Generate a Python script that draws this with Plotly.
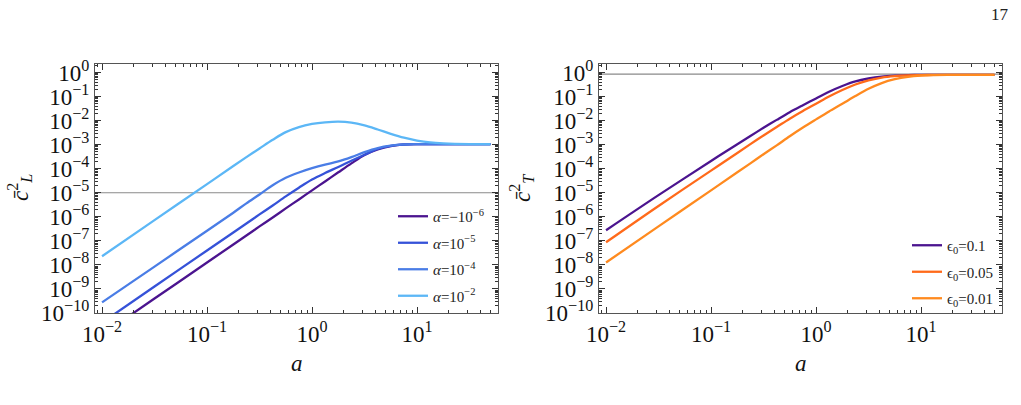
import plotly.graph_objects as go

# ---- data (curve values given as log10 of c^2) ----
a_vals = [0.01, 0.0316, 0.1, 0.178, 0.237, 0.316, 0.422, 0.562, 0.750, 1.0, 1.33, 1.78, 2.37,
          3.16, 4.22, 5.62, 7.5, 10.0, 13.3, 17.8, 31.6, 50.0]

# left panel: log10(c_L^2)
cL_alpha_m1e6 = [-10.9, -9.4, -7.9, -7.15, -6.78, -6.4, -6.03, -5.65, -5.28, -4.9, -4.53, -4.15, -3.78,
                 -3.43, -3.2, -3.06, -2.99, -2.98, -2.98, -2.98, -2.98, -2.98]
cL_alpha_1e5 = [-10.4, -8.9, -7.4, -6.65, -6.28, -5.9, -5.53, -5.15, -4.79, -4.45, -4.18, -3.93, -3.67,
                -3.42, -3.18, -3.05, -3.0, -2.98, -2.98, -2.98, -2.98, -2.98]
cL_alpha_1e4 = [-9.56, -8.07, -6.58, -5.83, -5.44, -5.07, -4.69, -4.38, -4.16, -3.98, -3.83, -3.70, -3.52,
                -3.31, -3.14, -3.04, -2.99, -2.98, -2.98, -2.98, -2.98, -2.98]
cL_alpha_1e2 = [-7.64, -6.14, -4.64, -3.89, -3.52, -3.16, -2.8, -2.48, -2.27, -2.14, -2.07, -2.04, -2.08,
                -2.2, -2.37, -2.55, -2.71, -2.83, -2.91, -2.95, -2.98, -2.98]
cL_ref = 1.0e-5

# right panel: log10(c_T^2)
cT_eps_01 = [-6.56, -5.1, -3.68, -2.98, -2.64, -2.3, -1.97, -1.65, -1.36, -1.08, -0.8, -0.56, -0.37,
             -0.25, -0.17, -0.13, -0.11, -0.1, -0.1, -0.1, -0.1, -0.1]
cT_eps_005 = [-7.06, -5.55, -4.08, -3.35, -2.98, -2.62, -2.27, -1.92, -1.6, -1.3, -1.0, -0.73, -0.5,
              -0.33, -0.21, -0.15, -0.12, -0.11, -0.1, -0.1, -0.1, -0.1]
cT_eps_001 = [-7.9, -6.4, -4.9, -4.15, -3.78, -3.4, -3.03, -2.65, -2.29, -1.95, -1.62, -1.3, -0.98,
              -0.68, -0.44, -0.28, -0.18, -0.13, -0.11, -0.1, -0.1, -0.1]
cT_ref = 0.85

left_names = ["<i>α</i>=−10<sup>−6</sup>", "<i>α</i>=10<sup>−5</sup>", "<i>α</i>=10<sup>−4</sup>", "<i>α</i>=10<sup>−2</sup>"]
right_names = ["ϵ<sub>0</sub>=0.1", "ϵ<sub>0</sub>=0.05", "ϵ<sub>0</sub>=0.01"]

y_exps = list(range(0, -11, -1))
y_tickvals = [10.0 ** e for e in y_exps]
y_ticktext = ["10<sup>" + (str(e) if e >= 0 else "−" + str(-e)) + "</sup>" for e in y_exps]
x_exps = [-2, -1, 0, 1]
x_tickvals = [10.0 ** e for e in x_exps]
x_ticktext = ["10<sup>" + (str(e) if e >= 0 else "−" + str(-e)) + "</sup>" for e in x_exps]

left_colors = ["#4b148f", "#3552d8", "#4a7de6", "#5cb7f6"]
right_colors = ["#4b148f", "#ff6a1a", "#ff8a1f"]

SERIF = "Liberation Serif"
W, H = 1021, 405


def unlog(vals):
    return [10.0 ** v for v in vals]


fig = go.Figure()

# reference lines
fig.add_trace(go.Scatter(x=[0.005, 100], y=[cL_ref, cL_ref], mode="lines",
                         line=dict(color="#8a8a8a", width=1.2), showlegend=False,
                         hoverinfo="skip", xaxis="x", yaxis="y"))
fig.add_trace(go.Scatter(x=[0.005, 100], y=[cT_ref, cT_ref], mode="lines",
                         line=dict(color="#8a8a8a", width=1.2), showlegend=False,
                         hoverinfo="skip", xaxis="x2", yaxis="y2"))

for i, (ys, nm, c) in enumerate(zip([cL_alpha_m1e6, cL_alpha_1e5, cL_alpha_1e4, cL_alpha_1e2], left_names, left_colors)):
    fig.add_trace(go.Scatter(x=a_vals, y=unlog(ys), mode="lines", name=nm,
                             line=dict(color=c, width=2.3, shape="spline", smoothing=0.9),
                             xaxis="x", yaxis="y", legend="legend", legendgroup="L%d" % i))

for i, (ys, nm, c) in enumerate(zip([cT_eps_01, cT_eps_005, cT_eps_001], right_names, right_colors)):
    fig.add_trace(go.Scatter(x=a_vals, y=unlog(ys), mode="lines", name=nm,
                             line=dict(color=c, width=2.3, shape="spline", smoothing=0.9),
                             xaxis="x2", yaxis="y2", legend="legend2", legendgroup="R%d" % i))

x_range = [-2.067, 1.771]
y_range = [-10, 0.353]
ydom = [1 - 313 / H, 1 - 64 / H]


def xaxis_cfg(dom, anchor):
    return dict(type="log", range=x_range, domain=dom, anchor=anchor, automargin=False,
                tickmode="array", tickvals=x_tickvals, ticktext=x_ticktext,
                ticks="inside", ticklen=6, tickwidth=1, tickcolor="#333333",
                minor=dict(ticks="inside", ticklen=3, tickwidth=0.8, tickcolor="#333333", dtick="D1", showgrid=False),
                showline=True, linecolor="#555555", linewidth=1.3, mirror="ticks",
                showgrid=False, zeroline=False,
                tickfont=dict(family=SERIF, size=23, color="#111111"))


def yaxis_cfg(anchor):
    return dict(type="log", range=y_range, domain=ydom, anchor=anchor, automargin=False,
                tickmode="array", tickvals=y_tickvals, ticktext=y_ticktext,
                ticks="inside", ticklen=6, tickwidth=1, tickcolor="#333333",
                minor=dict(ticks="inside", ticklen=3, tickwidth=0.8, tickcolor="#333333", dtick="D1", showgrid=False),
                showline=True, linecolor="#555555", linewidth=1.3, mirror="ticks",
                showgrid=False, zeroline=False,
                tickfont=dict(family=SERIF, size=23, color="#111111"))


fig.update_layout(
    width=W, height=H,
    margin=dict(l=0, r=0, t=0, b=0, autoexpand=False),
    paper_bgcolor="white", plot_bgcolor="white",
    showlegend=True,
    xaxis=xaxis_cfg([95 / W, 498 / W], "y"),
    yaxis=yaxis_cfg("x"),
    xaxis2=xaxis_cfg([599 / W, 1002 / W], "y2"),
    yaxis2=yaxis_cfg("x2"),
    legend=dict(x=393 / W, xanchor="left", y=1 - 200 / H, yanchor="top",
                bgcolor="rgba(0,0,0,0)", borderwidth=0, tracegroupgap=4,
                traceorder="grouped", font=dict(family=SERIF, size=15, color="#222222")),
    legend2=dict(x=907 / W, xanchor="left", y=1 - 229 / H, yanchor="top",
                 bgcolor="rgba(0,0,0,0)", borderwidth=0, tracegroupgap=4,
                 traceorder="grouped", font=dict(family=SERIF, size=15, color="#222222")),
    annotations=[
        dict(text="<i>a</i>", x=296.5 / W, y=1 - 363 / H, xref="paper", yref="paper",
             xanchor="center", yanchor="middle",
             showarrow=False, font=dict(family=SERIF, size=23, color="#111111")),
        dict(text="<i>a</i>", x=800.5 / W, y=1 - 363 / H, xref="paper", yref="paper",
             xanchor="center", yanchor="middle",
             showarrow=False, font=dict(family=SERIF, size=23, color="#111111")),
        dict(text="<i>c̄</i><sup>2</sup><sub><i>L</i></sub>", x=20 / W, y=1 - 188 / H, xref="paper", yref="paper",
             xanchor="center", yanchor="middle",
             showarrow=False, textangle=-90, font=dict(family=SERIF, size=23, color="#111111")),
        dict(text="<i>c̄</i><sup>2</sup><sub><i>T</i></sub>", x=522 / W, y=1 - 188 / H, xref="paper", yref="paper",
             xanchor="center", yanchor="middle",
             showarrow=False, textangle=-90, font=dict(family=SERIF, size=23, color="#111111")),
        dict(text="17", x=1000 / W, y=1 - 15 / H, xref="paper", yref="paper",
             xanchor="center", yanchor="middle",
             showarrow=False, font=dict(family=SERIF, size=17, color="#222222")),
    ],
)

fig.write_html("out.html")
